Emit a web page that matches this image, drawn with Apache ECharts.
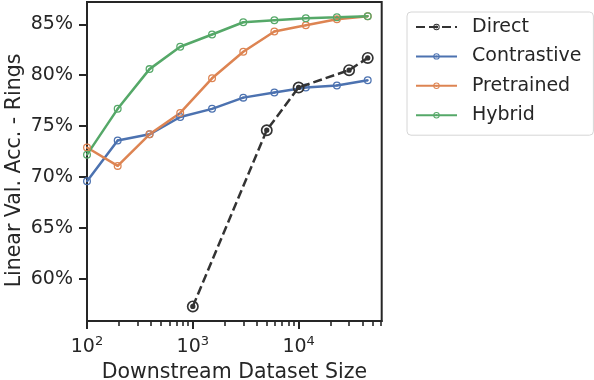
<!DOCTYPE html>
<html>
<head>
<meta charset="utf-8">
<script src="https://cdn.jsdelivr.net/npm/echarts@6/dist/echarts.min.js"></script>
<style>
html,body{margin:0;padding:0;background:#fff;}
#chart{width:594px;height:380px;}
</style>
</head>
<body>
<div id="chart"></div>
<script>
// ---- data ----
const sizes = [100, 195, 390, 760, 1520, 3000, 5900, 11700, 23000, 45000];
const contrastive = [69.6, 73.6, 74.2, 75.9, 76.7, 77.8, 78.3, 78.8, 79.0, 79.5];
const pretrained = [72.9, 71.1, 74.2, 76.3, 79.7, 82.3, 84.3, 84.9, 85.5, 85.8];
const hybrid = [72.2, 76.7, 80.6, 82.8, 84.0, 85.2, 85.4, 85.6, 85.7, 85.8];
const directSizes = [1000, 5000, 10000, 30000, 45000];
const direct = [57.3, 74.6, 78.8, 80.5, 81.7];
const seriesNames = ['Direct', 'Contrastive', 'Pretrained', 'Hybrid'];
const xMajorTicks = [100, 1000, 10000];
const xMinorTicks = [200,300,400,500,600,700,800,900,2000,3000,4000,5000,6000,7000,8000,9000,20000,30000,40000,50000,60000];
const yTicks = [60, 65, 70, 75, 80, 85];
const xTickLabels = {100: '2', 1000: '3', 10000: '4'};

const FONT = 'DejaVu Sans';
const INK = '#262626';
const ringPath = 'path://M0,10A10,10,0,1,1,20,10A10,10,0,1,1,0,10Z M3.2,10A6.8,6.8,0,1,0,16.8,10A6.8,6.8,0,1,0,3.2,10Z M7.3,10A2.7,2.7,0,1,1,12.7,10A2.7,2.7,0,1,1,7.3,10Z';
const ringPathBig = 'path://M0,10A10,10,0,1,1,20,10A10,10,0,1,1,0,10Z M2.8,10A7.2,7.2,0,1,0,17.2,10A7.2,7.2,0,1,0,2.8,10Z M5.6,10A4.4,4.4,0,1,1,14.4,10A4.4,4.4,0,1,1,5.6,10Z';

const pair = (xs, ys) => xs.map((x, i) => [x, ys[i]]);

function lineSeries(name, data, color, extra) {
  return Object.assign({
    name: name, type: 'line', data: data,
    symbol: ringPath, symbolSize: 8,
    lineStyle: {color: color, width: 2.5},
    itemStyle: {color: color},
    emphasis: {disabled: true},
    animation: false,
    xAxisIndex: 0, yAxisIndex: 0
  }, extra || {});
}

const chart = echarts.init(document.getElementById('chart'), null, {renderer: 'canvas'});
chart.setOption({
  animation: false,
  grid: {left: 87, top: 2, right: 212.3, bottom: 59, containLabel: false, outerBoundsMode: 'none',
         show: true, borderColor: INK, borderWidth: 2, backgroundColor: 'transparent'},
  legend: {
    data: seriesNames,
    orient: 'vertical', left: 407, top: 12,
    padding: [4, 12, 9, 8],
    itemGap: 7.4, itemWidth: 41, itemHeight: 8,
    borderColor: '#d6d6d6', borderWidth: 1, borderRadius: 4,
    textStyle: {fontFamily: FONT, fontSize: 19, color: INK, lineHeight: 22, padding: [0, 0, 0, 10]}
  },
  xAxis: [{
    type: 'log', logBase: 10, min: 100, max: 61000,
    position: 'bottom',
    axisLine: {show: true, onZero: false, lineStyle: {color: INK, width: 2}},
    axisTick: {show: true, length: 8, customValues: xMajorTicks, lineStyle: {color: INK, width: 2}},
    axisLabel: {
      show: true, margin: 14, customValues: xMajorTicks,
      formatter: v => '{b|10}{s|' + (xTickLabels[Math.round(v)] || '') + '}',
      rich: {
        b: {fontFamily: FONT, fontSize: 19, color: INK, lineHeight: 22, verticalAlign: 'bottom'},
        s: {fontFamily: FONT, fontSize: 13, color: INK, lineHeight: 13, verticalAlign: 'top'}
      }
    },
    splitLine: {show: false}, minorTick: {show: false}, minorSplitLine: {show: false},
    name: 'Downstream Dataset Size', nameLocation: 'middle', nameGap: 37,
    nameTextStyle: {fontFamily: FONT, fontSize: 20.5, color: INK}
  }, {
    type: 'log', logBase: 10, min: 100, max: 61000,
    position: 'bottom', gridIndex: 0,
    axisLine: {show: false},
    axisTick: {show: true, length: 5, customValues: xMinorTicks, lineStyle: {color: INK, width: 1.6}},
    axisLabel: {show: false},
    splitLine: {show: false}
  }],
  yAxis: {
    type: 'value', min: 55.87, max: 87.19,
    axisLine: {show: true, onZero: false, lineStyle: {color: INK, width: 2}},
    axisTick: {show: true, length: 8, customValues: yTicks, lineStyle: {color: INK, width: 2}},
    axisLabel: {show: true, margin: 14, customValues: yTicks, formatter: '{value}%', fontFamily: FONT, fontSize: 19, color: INK},
    splitLine: {show: false},
    name: 'Linear Val. Acc. - Rings', nameLocation: 'middle', nameGap: 62,
    nameTextStyle: {fontFamily: FONT, fontSize: 20.5, color: INK, padding: [0, 18, 0, 0]}
  },
  series: [
    lineSeries('Direct', pair(directSizes, direct), '#333333', {
      symbol: ringPathBig, symbolSize: 12, z: 5,
      lineStyle: {color: '#333333', width: 2.5, type: [9, 4]}
    }),
    lineSeries('Contrastive', pair(sizes, contrastive), '#4C72B0'),
    lineSeries('Pretrained', pair(sizes, pretrained), '#DD8452'),
    lineSeries('Hybrid', pair(sizes, hybrid), '#55A868')
  ]
});
</script>
</body>
</html>
